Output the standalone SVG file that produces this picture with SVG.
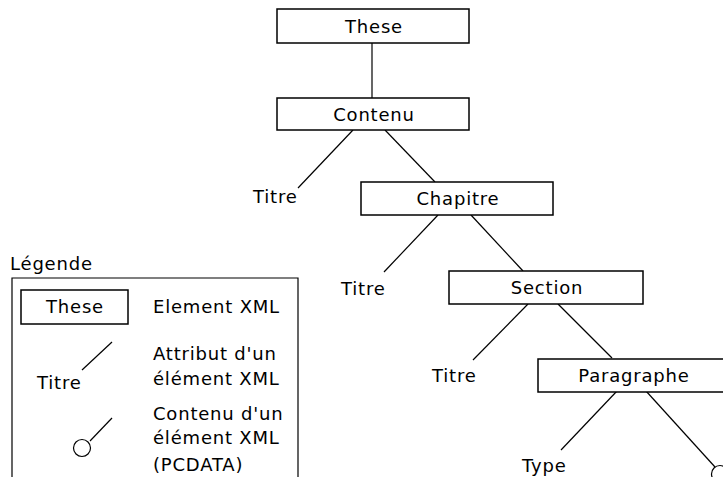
<svg xmlns="http://www.w3.org/2000/svg" width="723" height="477" viewBox="0 0 723 477">
<style>
.box{fill:#fff;stroke:#000;stroke-width:1.5}
.ln{stroke:#000;stroke-width:1.2;fill:none}
text{font-family:"DejaVu Sans","Liberation Sans",sans-serif;font-size:18px;fill:#000;letter-spacing:0.8px}
.c{text-anchor:middle}
</style>
<rect width="723" height="477" fill="#fff"/>
<g id="connectors">
<line class="ln" x1="372" y1="43" x2="372" y2="98"/>
<line class="ln" x1="353" y1="130" x2="298" y2="188"/>
<line class="ln" x1="385" y1="130" x2="435" y2="182"/>
<line class="ln" x1="438" y1="215" x2="384" y2="272"/>
<line class="ln" x1="471" y1="215" x2="523" y2="271"/>
<line class="ln" x1="528" y1="304" x2="473" y2="360"/>
<line class="ln" x1="558" y1="304" x2="612" y2="358"/>
<line class="ln" x1="617" y1="391" x2="561" y2="450"/>
<line class="ln" x1="646" y1="391" x2="715" y2="467"/>
</g>
<g id="these"><rect class="box" x="277" y="9" width="192" height="34"/><text class="c" x="374" y="33">These</text></g>
<g id="contenu"><rect class="box" x="277" y="98" width="192" height="32"/><text class="c" x="374" y="121">Contenu</text></g>
<g id="titre1"><text x="253" y="203">Titre</text></g>
<g id="chapitre"><rect class="box" x="361" y="182" width="192" height="33"/><text class="c" x="458" y="205">Chapitre</text></g>
<g id="titre2"><text x="341" y="295">Titre</text></g>
<g id="section"><rect class="box" x="449" y="271" width="194" height="33"/><text class="c" x="547" y="294">Section</text></g>
<g id="titre3"><text x="432" y="382">Titre</text></g>
<g id="paragraphe"><rect class="box" x="538" y="359" width="194" height="33"/><text class="c" x="634" y="382">Paragraphe</text></g>
<g id="type"><text x="522" y="472">Type</text></g>
<g id="pcdata"><circle class="ln" cx="720" cy="474" r="8.5"/></g>
<g id="legende">
<text x="10" y="270">Légende</text>
<polyline class="ln" points="12,480 12,278 298,278 298,480"/>
<rect class="box" x="21" y="290" width="107" height="34"/>
<text class="c" x="75" y="313">These</text>
<text x="153" y="313">Element XML</text>
<line class="ln" x1="112" y1="342" x2="82" y2="370"/>
<text x="37" y="389">Titre</text>
<text x="153" y="360">Attribut d'un</text>
<text x="153" y="385">élément XML</text>
<line class="ln" x1="112" y1="418" x2="90" y2="441"/>
<circle class="ln" cx="82" cy="448" r="8.5"/>
<text x="153" y="420">Contenu d'un</text>
<text x="153" y="444">élément XML</text>
<text x="153" y="471">(PCDATA)</text>
</g>
</svg>
